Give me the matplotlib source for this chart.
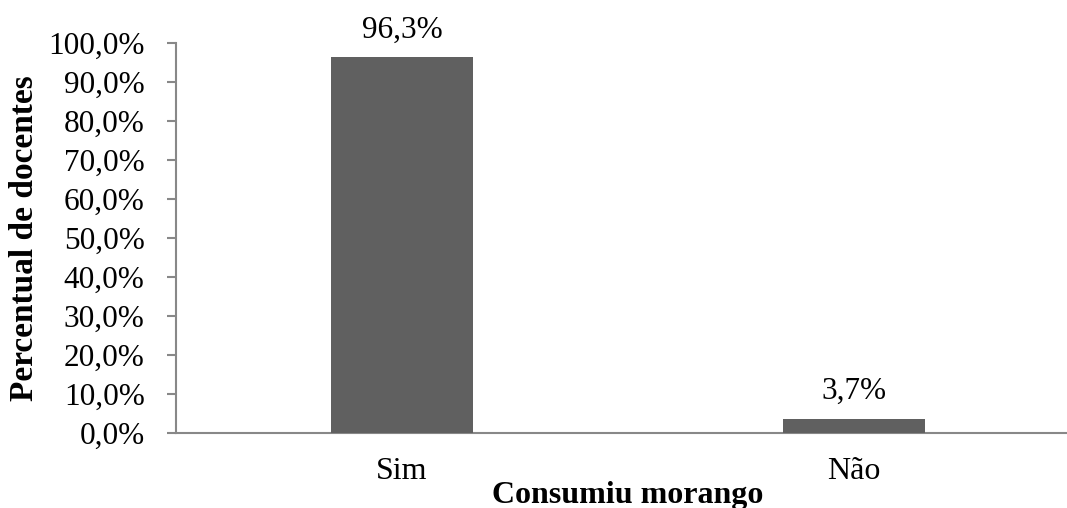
import numpy as np
import matplotlib.pyplot as plt

plt.rcParams['font.family'] = ['Liberation Serif', 'DejaVu Serif']

categorias = ['Sim', 'Não']
percentuais = [96.3, 3.7]
rotulos = ['96,3%', '3,7%']
yticks = np.arange(0, 101, 10)
ytick_labels = ['%d,0%%' % v for v in yticks]

fig = plt.figure(figsize=(10.67, 5.08), dpi=100)
ax = fig.add_axes([176/1067, 75/508, 904/1067, 390/508])

x = np.arange(len(categorias))
bars = ax.bar(x, percentuais, width=0.312, color='#606060', zorder=3)

for b, lab in zip(bars, rotulos):
    ax.annotate(lab, (b.get_x() + b.get_width()/2, b.get_height()),
                xytext=(0, 14), textcoords='offset points',
                ha='center', va='baseline', fontsize=22.5)

ax.set_xlim(-0.5, 1.5)
ax.set_ylim(0, 100)
ax.set_yticks(yticks)
ax.set_yticklabels(ytick_labels)
ax.set_xticks(x)
ax.set_xticklabels(categorias)

ax.tick_params(axis='y', length=6.5, width=1.5, color='#888888', pad=16, labelsize=22.5)
ax.tick_params(axis='x', length=0, pad=17, labelsize=23)

for s in ['top', 'right']:
    ax.spines[s].set_visible(False)
for s in ['left', 'bottom']:
    ax.spines[s].set_color('#888888')
    ax.spines[s].set_linewidth(1.5)

ax.set_ylabel('Percentual de docentes', fontsize=24, fontweight='bold', labelpad=6)
ax.set_xlabel('Consumiu morango', fontsize=23, fontweight='bold', labelpad=-3)

fig.savefig('out.png', dpi=100)
